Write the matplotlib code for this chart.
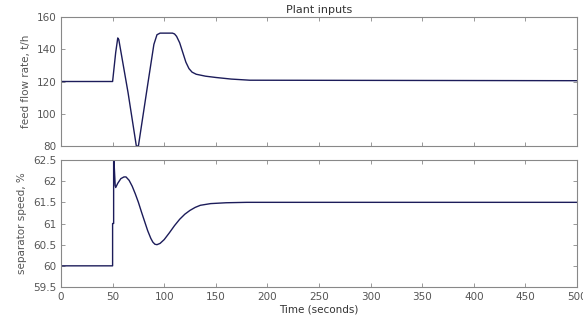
import matplotlib
matplotlib.use("Agg")
import matplotlib.pyplot as plt

# Top: feed flow rate
t_feed = [0, 50, 53, 55, 56, 65, 73, 75, 84, 90, 93, 96, 108, 110, 112, 115, 118, 121, 124, 127,
          131, 140, 150, 165, 183, 500]
v_feed = [120, 120, 138, 147, 146, 113, 80, 80, 118, 143, 149, 150, 150, 149.5, 148, 144, 138, 132,
          128, 125.8, 124.5, 123.3, 122.5, 121.5, 120.8, 120.5]

# Bottom: separator speed
t_sep = [0, 50, 50, 51, 51, 51.5, 52.5, 53, 55, 58, 61, 63, 66, 69, 72, 75, 78, 81, 84, 87, 89,
         91, 93, 96, 100, 105, 110, 115, 120, 125, 130, 135, 145, 160, 180, 500]
v_sep = [60, 60, 61, 61, 62.6, 62.4, 61.9, 61.85, 61.95, 62.06, 62.1, 62.1, 62.02, 61.88, 61.7,
         61.5, 61.27, 61.05, 60.83, 60.65, 60.56, 60.51, 60.5, 60.53, 60.62, 60.78, 60.95, 61.1,
         61.22, 61.31, 61.38, 61.43, 61.47, 61.49, 61.5, 61.5]

x_ticks = [0, 50, 100, 150, 200, 250, 300, 350, 400, 450, 500]
x_ticklabels = ["0", "50", "100", "150", "200", "250", "300", "350", "400", "450", "500"]
feed_ticks = [80, 100, 120, 140, 160]
sep_ticks = [59.5, 60, 60.5, 61, 61.5, 62, 62.5]

line_col = "#1c1c5a"
txt_col = "#555555"
spine_col = "#888888"

fig = plt.figure(figsize=(5.83, 3.21), dpi=100)
ax1 = fig.add_axes([61/583, 1-146/321, 516/583, 129/321])
ax2 = fig.add_axes([61/583, 1-287/321, 516/583, 127/321])

ax1.plot(t_feed, v_feed, color=line_col, lw=1.0)
ax2.plot(t_sep, v_sep, color=line_col, lw=1.0)

for ax in (ax1, ax2):
    ax.set_xlim(0, 500)
    ax.set_xticks(x_ticks)
    ax.tick_params(direction="in", top=True, right=True, length=3, colors=spine_col,
                   labelcolor=txt_col, labelsize=7.5, width=0.6)
    for s in ax.spines.values():
        s.set_color(spine_col)
        s.set_linewidth(0.8)

ax1.set_ylim(80, 160)
ax1.set_yticks(feed_ticks)
ax1.set_xticklabels([])
ax1.set_ylabel("feed flow rate, t/h", fontsize=7.5, color=txt_col)
ax1.set_title("Plant inputs", fontsize=8, color="#333333", pad=3)

ax2.set_ylim(59.5, 62.5)
ax2.set_yticks(sep_ticks)
ax2.set_yticklabels([f"{v:g}" for v in sep_ticks])
ax2.set_xticklabels(x_ticklabels)
ax2.set_ylabel("separator speed, %", fontsize=7.5, color=txt_col)
ax2.set_xlabel("Time (seconds)", fontsize=7.5, color="#333333", labelpad=2)

fig.savefig("out.png", dpi=100)
